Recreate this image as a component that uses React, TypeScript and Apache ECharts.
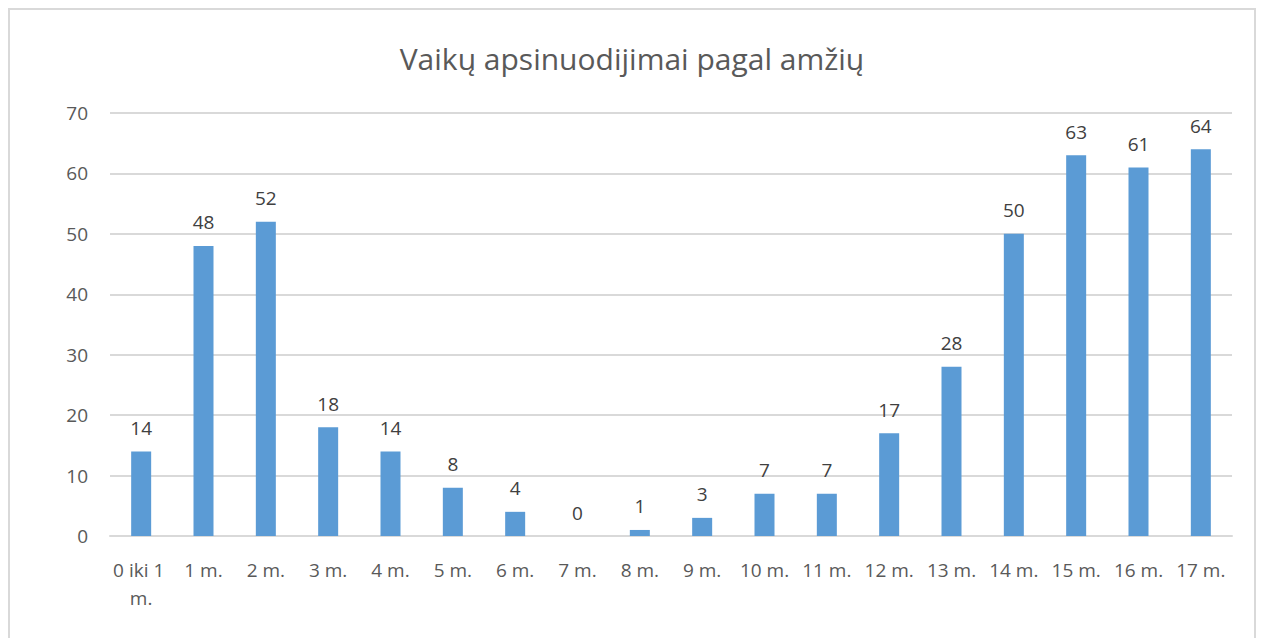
import React, { useEffect, useRef } from "react";
import * as echarts from "echarts";

const titleText = "Vaikų apsinuodijimai pagal amžių";
const categories = [
  "0 iki 1 m.", "1 m.", "2 m.", "3 m.", "4 m.", "5 m.", "6 m.", "7 m.", "8 m.",
  "9 m.", "10 m.", "11 m.", "12 m.", "13 m.", "14 m.", "15 m.", "16 m.", "17 m.",
];
const values = [14, 48, 52, 18, 14, 8, 4, 0, 1, 3, 7, 7, 17, 28, 50, 63, 61, 64];

const FONT = "'Open Sans', 'Noto Sans', sans-serif";

export default function App() {
  const ref = useRef<HTMLDivElement>(null);
  useEffect(() => {
    if (!ref.current) return;
    const chart = echarts.init(ref.current, null, { renderer: "svg" });
    chart.setOption({
      animation: false,
      backgroundColor: "#ffffff",
      title: {
        text: titleText,
        left: "center",
        top: 28,
        textStyle: { fontFamily: FONT, fontSize: 30, fontWeight: "normal", color: "#595959" },
      },
      grid: { left: 100, right: 22, top: 103, bottom: 110 },
      xAxis: {
        type: "category",
        data: categories,
        axisLine: { show: true, lineStyle: { color: "#d9d9d9", width: 2 } },
        axisTick: { show: false },
        axisLabel: {
          interval: 0,
          margin: 20,
          color: "#595959",
          fontFamily: FONT,
          fontSize: 19,
          width: 62,
          overflow: "break",
          lineHeight: 28,
        },
      },
      yAxis: {
        type: "value",
        min: 0,
        max: 70,
        interval: 10,
        axisLine: { show: false },
        axisTick: { show: false },
        axisLabel: { margin: 22, color: "#595959", fontFamily: FONT, fontSize: 19 },
        splitLine: { lineStyle: { color: "#d9d9d9", width: 2 } },
      },
      series: [
        {
          type: "bar",
          data: values,
          barWidth: 20,
          itemStyle: { color: "#5b9bd5" },
          label: {
            show: true,
            position: "top",
            distance: 14,
            color: "#404040",
            fontFamily: FONT,
            fontSize: 19,
          },
        },
      ],
    });
    return () => chart.dispose();
  }, []);
  return (
    <div
      ref={ref}
      style={{
        width: 1248,
        height: 640,
        boxSizing: "border-box",
        border: "2px solid #d9d9d9",
      }}
    />
  );
}
